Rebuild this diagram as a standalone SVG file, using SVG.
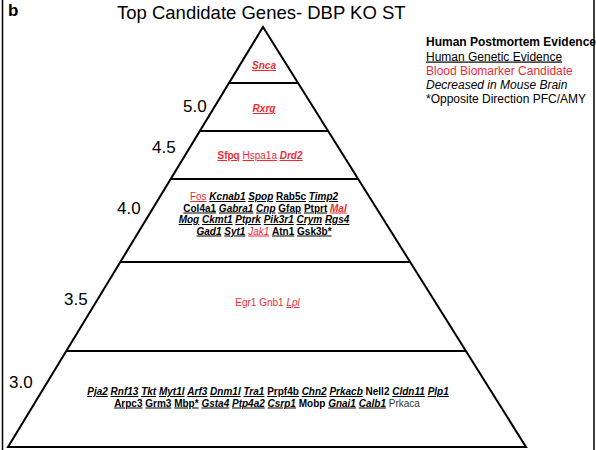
<svg xmlns="http://www.w3.org/2000/svg" width="596" height="450" viewBox="0 0 596 450">
<style>
text{font-family:"Liberation Sans",Arial,sans-serif;fill:#000}
.lvl{font-size:17px}
.g{font-size:10px;text-anchor:middle}
.b{font-weight:bold}
.i{font-style:italic}
.u{text-decoration:underline}
.r{fill:#ee2b35}
.lg{font-size:12px}
.edge{fill:none;stroke:#000;stroke-width:2;stroke-linejoin:miter}
.tier{stroke:#000;stroke-width:2}
</style>
<rect width="596" height="450" fill="#fff"/>
<g id="frame">
<line x1="2.5" y1="0" x2="2.5" y2="450" stroke="#000" stroke-width="1.5"/>
<line x1="594" y1="0" x2="594" y2="450" stroke="#000" stroke-width="1.5"/>
</g>
<text x="8" y="16" font-size="17" font-weight="bold">b</text>
<text x="117" y="19" font-size="18.5">Top Candidate Genes- DBP KO ST</text>
<g id="legend" class="lg">
<text x="426" y="46" class="lg b">Human Postmortem Evidence</text>
<text x="426" y="60.5" class="lg u">Human Genetic Evidence</text>
<text x="426" y="75" class="lg r">Blood Biomarker Candidate</text>
<text x="426" y="89" class="lg i">Decreased in Mouse Brain</text>
<text x="426" y="103" class="lg">*Opposite Direction PFC/AMY</text>
</g>
<g id="pyramid">
<polygon class="edge" points="263,27 526,447 8,447"/>
</g>
<g id="connectors">
<line class="tier" x1="229" y1="83" x2="298" y2="83"/>
<line class="tier" x1="200" y1="131" x2="328" y2="131"/>
<line class="tier" x1="171" y1="179" x2="358" y2="179"/>
<line class="tier" x1="120" y1="262" x2="410" y2="262"/>
<line class="tier" x1="66" y1="351" x2="466" y2="351"/>
<line class="tier" x1="8" y1="447" x2="526" y2="447"/>
</g>
<g id="levels">
<text class="lvl" x="183" y="112">5.0</text>
<text class="lvl" x="152" y="153">4.5</text>
<text class="lvl" x="117" y="214">4.0</text>
<text class="lvl" x="64" y="305">3.5</text>
<text class="lvl" x="9" y="388">3.0</text>
</g>
<g id="tier-top">
<text class="g" x="264" y="69"><tspan class="r b i u">Snca</tspan></text>
</g>
<g id="tier-5.0">
<text class="g" x="264" y="112"><tspan class="r b i u">Rxrg</tspan></text>
</g>
<g id="tier-4.5">
<text class="g" x="260" y="159"><tspan class="r b u">Sfpq</tspan> <tspan class="r u">Hspa1a</tspan> <tspan class="r b i u">Drd2</tspan></text>
</g>
<g id="tier-4.0">
<text class="g" x="264" y="200"><tspan class="r u">Fos</tspan> <tspan class="b i u">Kcnab1</tspan> <tspan class="b i u">Spop</tspan> <tspan class="b u">Rab5c</tspan> <tspan class="b i u">Timp2</tspan></text>
<text class="g" x="265" y="211.5"><tspan class="b u">Col4a1</tspan> <tspan class="b i u">Gabra1</tspan> <tspan class="b i u">Cnp</tspan> <tspan class="b u">Gfap</tspan> <tspan class="b u">Ptprt</tspan> <tspan class="r b i u">Mal</tspan></text>
<text class="g" x="264" y="223"><tspan class="b i u">Mog</tspan> <tspan class="b i u">Ckmt1</tspan> <tspan class="b i u">Ptprk</tspan> <tspan class="b i u">Pik3r1</tspan> <tspan class="b i u">Crym</tspan> <tspan class="b i u">Rgs4</tspan></text>
<text class="g" x="264" y="234.5"><tspan class="b i u">Gad1</tspan> <tspan class="b i u">Syt1</tspan> <tspan class="r i u">Jak1</tspan> <tspan class="b u">Atn1</tspan> <tspan class="b u">Gsk3b*</tspan></text>
</g>
<g id="tier-3.5">
<text class="g" x="267.5" y="306"><tspan class="r">Egr1</tspan> <tspan class="r">Gnb1</tspan> <tspan class="r i u">Lpl</tspan></text>
</g>
<g id="tier-3.0">
<text class="g" x="268" y="395"><tspan class="b i u">Pja2</tspan> <tspan class="b i u">Rnf13</tspan> <tspan class="b i u">Tkt</tspan> <tspan class="b i u">Myt1l</tspan> <tspan class="b i u">Arf3</tspan> <tspan class="b i u">Dnm1l</tspan> <tspan class="b i u">Tra1</tspan> <tspan class="b u">Prpf4b</tspan> <tspan class="b i u">Chn2</tspan> <tspan class="b i u">Prkacb</tspan> <tspan class="b">Nell2</tspan> <tspan class="b i u">Cldn11</tspan> <tspan class="b i u">Plp1</tspan></text>
<text class="g" x="267" y="406.5"><tspan class="b u">Arpc3</tspan> <tspan class="b u">Grm3</tspan> <tspan class="b u">Mbp*</tspan> <tspan class="b i u">Gsta4</tspan> <tspan class="b i u">Ptp4a2</tspan> <tspan class="b i u">Csrp1</tspan> <tspan class="b">Mobp</tspan> <tspan class="b i u">Gnai1</tspan> <tspan class="b i u">Calb1</tspan> <tspan fill="#333">Prkaca</tspan></text>
</g>
</svg>
